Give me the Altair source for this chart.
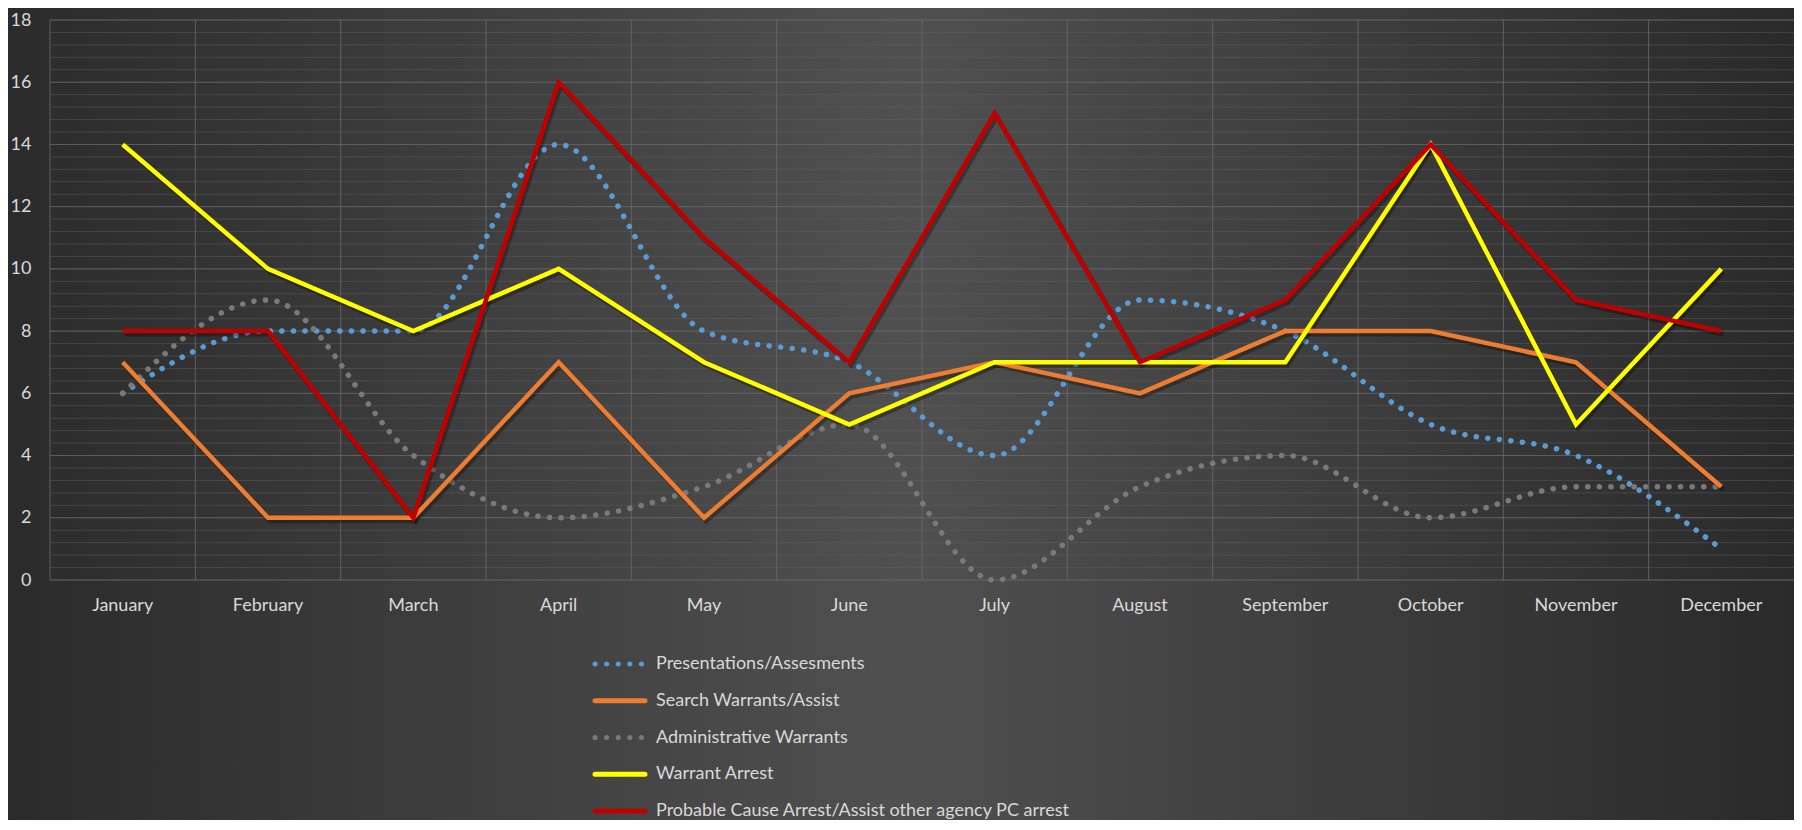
import altair as alt
import pandas as pd

months = ["January", "February", "March", "April", "May", "June", "July",
          "August", "September", "October", "November", "December"]
series_names = ["Presentations/Assesments", "Search Warrants/Assist",
                "Administrative Warrants", "Warrant Arrest",
                "Probable Cause Arrest/Assist other agency PC arrest"]
presentations = [6, 8, 8, 14, 8, 7, 4, 9, 8, 5, 4, 1]
search_warrants = [7, 2, 2, 7, 2, 6, 7, 6, 8, 8, 7, 3]
admin_warrants = [6, 9, 4, 2, 3, 5, 0, 3, 4, 2, 3, 3]
warrant_arrest = [14, 10, 8, 10, 7, 5, 7, 7, 7, 14, 5, 10]
pc_arrest = [8, 8, 2, 16, 11, 7, 15, 7, 9, 14, 9, 8]
y_ticks = [0, 2, 4, 6, 8, 10, 12, 14, 16, 18]
minor_grid = [round(i * 0.4, 1) for i in range(46)]

colors = ["#5b9bd5", "#ed7d31", "#7a7a7a", "#ffff00", "#c00000"]
legend_dashes = [[0.1, 11.5], [1, 0], [0.1, 11.5], [1, 0], [1, 0]]

all_values = [presentations, search_warrants, admin_warrants, warrant_arrest, pc_arrest]
rows = []
for name, vals in zip(series_names, all_values):
    for m, v in zip(months, vals):
        rows.append({"month": m, "series": name, "value": v})
df = pd.DataFrame(rows)
dotted_df = df[df["series"].isin([series_names[0], series_names[2]])]
solid_df = df[df["series"].isin([series_names[1], series_names[3], series_names[4]])]

W, H = 1744, 560
PAD = {"left": 42, "top": 12, "right": 0, "bottom": 240}
LABEL = "#d9d9d9"
FONT = "Lato"
FS = 18

color_scale = alt.Scale(domain=series_names, range=colors)
x_scale = alt.Scale(type="band", domain=months, paddingInner=0, paddingOuter=0)
x_axis = alt.Axis(title=None, labelAngle=0, ticks=False, domain=False, grid=False,
                  labelPadding=16, labelFontSize=FS, labelColor=LABEL,
                  labelFont=FONT, zindex=1)
x_enc = alt.X("month:N", sort=months, bandPosition=0.5, scale=x_scale, axis=x_axis)
y_scale = alt.Scale(domain=[0, 18], nice=False, zero=True)

bg = alt.Chart(alt.Data(values=[{"k": 1}])).mark_rect(
    fill=alt.Gradient(gradient="linear", x1=0, x2=1, y1=0, y2=0,
                      stops=[alt.GradientStop(color="#2b2b2b", offset=0),
                             alt.GradientStop(color="#505050", offset=0.5),
                             alt.GradientStop(color="#2a2a2a", offset=1)])
).encode(x=alt.value(-PAD["left"]), x2=alt.value(W + PAD["right"]),
         y=alt.value(-PAD["top"]), y2=alt.value(H + PAD["bottom"]))

minor = alt.Chart(pd.DataFrame({"g": minor_grid})).mark_rule(
    color="#626262", strokeWidth=1, opacity=0.45
).encode(y=alt.Y("g:Q", scale=y_scale, axis=None),
         x=alt.value(0), x2=alt.value(W))

major = alt.Chart(pd.DataFrame({"t": y_ticks})).mark_rule(
    color="#6a6a6a", strokeWidth=1, opacity=0.7
).encode(y=alt.Y("t:Q", scale=y_scale, axis=None),
         x=alt.value(0), x2=alt.value(W))

vgrid = alt.Chart(pd.DataFrame({"month": months})).mark_rule(
    color="#6c6c6c", strokeWidth=1, opacity=0.8
).encode(x=alt.X("month:N", sort=months, bandPosition=0, scale=x_scale, axis=x_axis),
         y=alt.value(0), y2=alt.value(H))

dotted = alt.Chart(dotted_df).mark_line(
    strokeWidth=5.5, strokeCap="round", strokeDash=[0.1, 11.5], interpolate="monotone"
).encode(
    x=x_enc,
    y=alt.Y("value:Q", scale=y_scale,
            axis=alt.Axis(title=None, values=y_ticks, ticks=False, domain=False, grid=False,
                          labelPadding=19, labelFontSize=FS, labelColor=LABEL,
                          labelFont=FONT, zindex=1)),
    color=alt.Color("series:N", scale=color_scale, legend=None),
    detail="series:N",
)

shadow = alt.Chart(solid_df).mark_line(
    strokeWidth=5, color="#000000", opacity=0.3, xOffset=2, yOffset=3
).encode(x=x_enc, y=alt.Y("value:Q", scale=y_scale, axis=None), detail="series:N")

solid = alt.Chart(solid_df).mark_line(strokeWidth=4.5, strokeJoin="miter").encode(
    x=x_enc,
    y=alt.Y("value:Q", scale=y_scale, axis=None),
    color=alt.Color("series:N", scale=color_scale, legend=None),
    detail="series:N",
)

leg_df = pd.DataFrame({"series": series_names})
leg_y = alt.Y("series:N", sort=series_names,
              scale=alt.Scale(type="point", domain=series_names, range=[644, 791], padding=0),
              axis=None)
leg_rule = alt.Chart(leg_df).mark_rule(strokeWidth=5, strokeCap="round").encode(
    x=alt.value(545), x2=alt.value(595), y=leg_y,
    color=alt.Color("series:N", scale=color_scale, legend=None),
    strokeDash=alt.StrokeDash("series:N",
                              scale=alt.Scale(domain=series_names, range=legend_dashes),
                              legend=None),
)
leg_text = alt.Chart(leg_df).mark_text(
    align="left", baseline="middle", fontSize=FS, font=FONT, color=LABEL
).encode(x=alt.value(606), y=leg_y, text="series:N")

chart = alt.layer(bg, minor, major, vgrid, dotted, shadow, solid, leg_rule, leg_text).resolve_scale(
    y="independent"
).properties(
    width=W, height=H,
    autosize=alt.AutoSizeParams(type="none"),
    padding=PAD,
    background="#3a3a3a",
).configure_view(stroke=None)

chart.save("out.html", embed_options={"renderer": "svg", "actions": False})
